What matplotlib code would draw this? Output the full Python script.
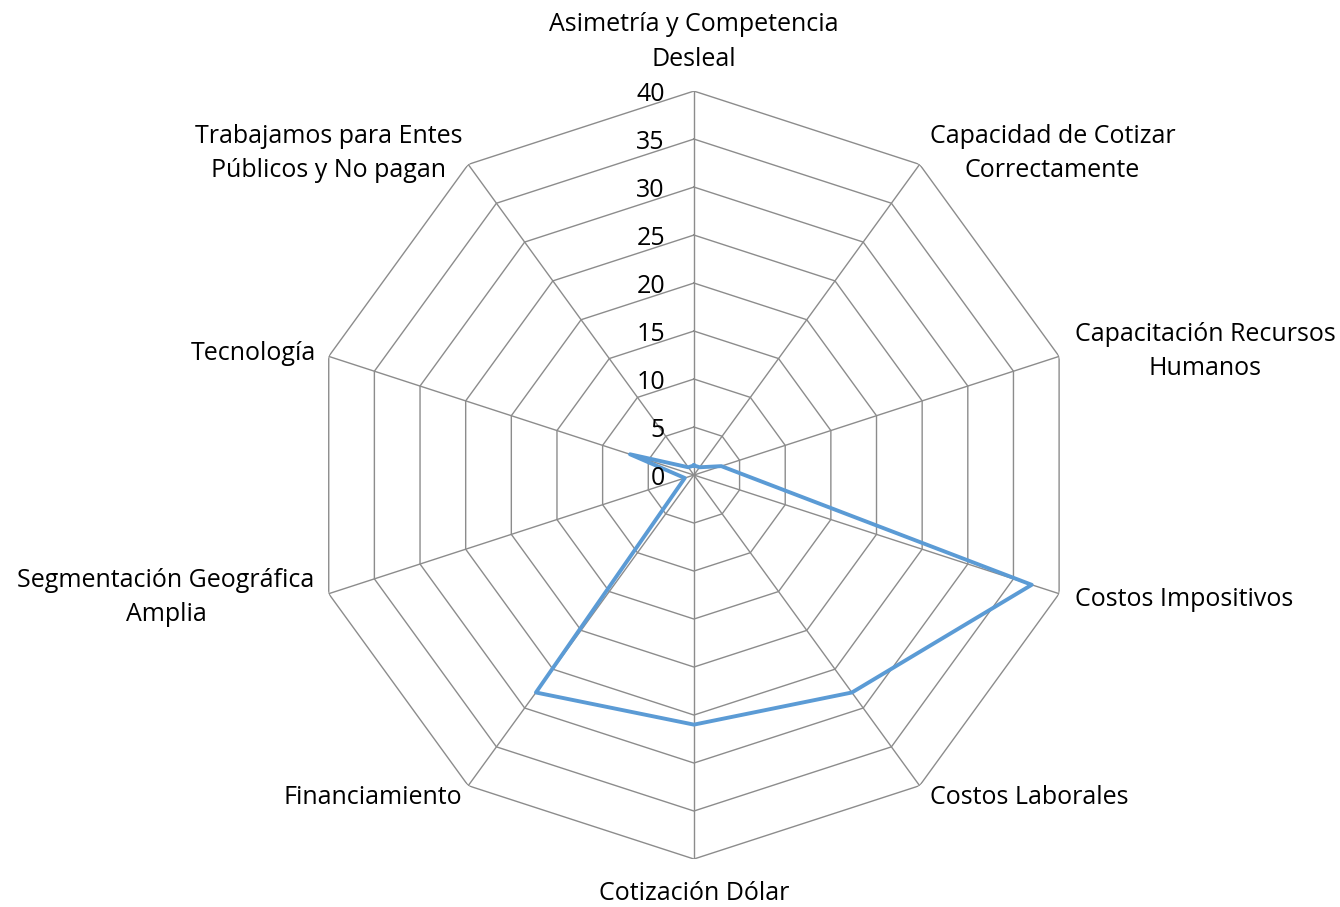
import numpy as np
import matplotlib
matplotlib.use("Agg")
import matplotlib.pyplot as plt

plt.rcParams["font.family"] = ["Open Sans", "DejaVu Sans"]

categorias = [
    "Asimetría y Competencia\nDesleal",
    "Capacidad de Cotizar\nCorrectamente",
    "Capacitación Recursos\nHumanos",
    "Costos Impositivos",
    "Costos Laborales",
    "Cotización Dólar",
    "Financiamiento",
    "Segmentación Geográfica\nAmplia",
    "Tecnología",
    "Trabajamos para Entes\nPúblicos y No pagan",
]
valores = [1, 1, 3, 37, 28, 26, 28, 1, 7, 1]
ticks = [0, 5, 10, 15, 20, 25, 30, 35, 40]

n = len(categorias)
ang = np.linspace(0, 2 * np.pi, n, endpoint=False)
ang_c = np.append(ang, ang[0])

fig = plt.figure(figsize=(13.4, 9.07), dpi=100)
ax = fig.add_axes([0.2313, 0.0529, 0.5731, 0.8467], projection="polar")
ax.set_theta_zero_location("N")
ax.set_theta_direction(-1)
ax.set_ylim(0, 40)
ax.grid(False)
ax.set_xticks([])
ax.set_yticks([])
ax.spines["polar"].set_visible(False)

gris = "#8c8c8c"
for t in ticks[1:]:
    ax.plot(ang_c, [t] * (n + 1), color=gris, lw=1.0, zorder=1)
for a in ang:
    ax.plot([a, a], [0, 40], color=gris, lw=1.0, zorder=1)

ax.plot(ang_c, valores + valores[:1], color="#5b9bd5", lw=2.8, zorder=3)

for t in ticks:
    ax.annotate(str(t), xy=(0, t), xytext=(-29, -3), textcoords="offset pixels",
                ha="right", va="center", fontsize=18, color="#000000")

# desplazamientos de las etiquetas de categoria (px) y alineacion
offs = [(0, 49, "center"), (10, 11, "left"), (16, 5, "left"), (16, -6, "left"),
        (10, -12, "left"), (0, -34, "center"), (-6, -12, "right"),
        (-14, -4, "right"), (-13, 3, "right"), (-6, 11, "right")]
for a, lab, (dx, dy, ha) in zip(ang, categorias, offs):
    ax.annotate(lab, xy=(a, 40), xytext=(dx, dy), textcoords="offset pixels",
                ha=ha, va="center", multialignment="center",
                fontsize=18, color="#000000", linespacing=1.5)

fig.savefig("out.png", dpi=100)
